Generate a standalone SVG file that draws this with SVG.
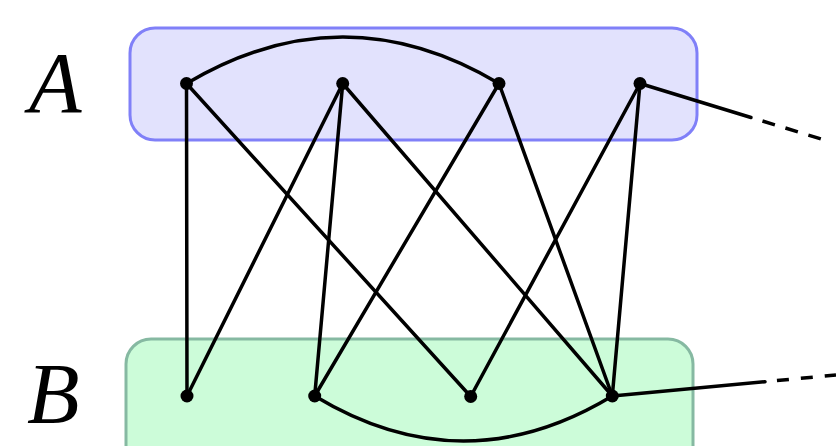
<svg xmlns="http://www.w3.org/2000/svg" width="836" height="446" viewBox="0 0 836 446">
<style>
.e{fill:none;stroke:#000;stroke-width:3.5;stroke-linecap:round}
.d{fill:none;stroke:#000;stroke-width:3.5}
.n{fill:#000}
.lbl{font-family:"Liberation Serif",serif;font-style:italic;font-size:86px;fill:#000}
</style>
<rect x="0" y="0" width="836" height="446" fill="#fff"/>
<g id="setA">
<rect x="130" y="28" width="567" height="112" rx="25" fill="#e2e2fd" stroke="#8080f8" stroke-width="3"/>
<text class="lbl" x="29" y="112">A</text>
</g>
<g id="setB">
<rect x="126" y="339" width="567" height="140" rx="25" fill="#ccfcd9" stroke="#86b9a2" stroke-width="3"/>
<text class="lbl" x="27" y="423">B</text>
</g>
<g id="connectors">
<path class="e" d="M186.5 83.5 Q343 -9.5 499 83.5"/>
<path class="e" d="M314.7 396 Q463.5 486 612.3 396"/>
<line class="e" x1="186.5" y1="83.5" x2="187" y2="396"/>
<line class="e" x1="186.5" y1="83.5" x2="470.7" y2="396.5"/>
<line class="e" x1="342.7" y1="83.5" x2="187" y2="396"/>
<line class="e" x1="342.7" y1="83.5" x2="314.7" y2="396"/>
<line class="e" x1="342.7" y1="83.5" x2="612.3" y2="396"/>
<line class="e" x1="499" y1="83.5" x2="314.7" y2="396"/>
<line class="e" x1="499" y1="83.5" x2="612.3" y2="396"/>
<line class="e" x1="640" y1="83.5" x2="470.7" y2="396.5"/>
<line class="e" x1="640" y1="83.5" x2="612.3" y2="396"/>
<line class="e" x1="640" y1="83.5" x2="751" y2="117.5"/>
<line class="d" x1="751" y1="117.5" x2="836" y2="143.5" stroke-dasharray="0 12 13 11 13 11 13 11"/>
<line class="e" x1="612.3" y1="396" x2="765" y2="381.7"/>
<line class="d" x1="765" y1="381.7" x2="836" y2="375" stroke-dasharray="0 12 12 12 12 12 12 12"/>
</g>
<g id="a1"><circle class="n" cx="186.5" cy="83.5" r="6.5"/></g>
<g id="a2"><circle class="n" cx="342.7" cy="83.5" r="6.5"/></g>
<g id="a3"><circle class="n" cx="499" cy="83.5" r="6.5"/></g>
<g id="a4"><circle class="n" cx="640" cy="83.5" r="6.5"/></g>
<g id="b1"><circle class="n" cx="187" cy="396" r="6.5"/></g>
<g id="b2"><circle class="n" cx="314.7" cy="396" r="6.5"/></g>
<g id="b3"><circle class="n" cx="470.7" cy="396.5" r="6.5"/></g>
<g id="b4"><circle class="n" cx="612.3" cy="396" r="6.5"/></g>
</svg>
